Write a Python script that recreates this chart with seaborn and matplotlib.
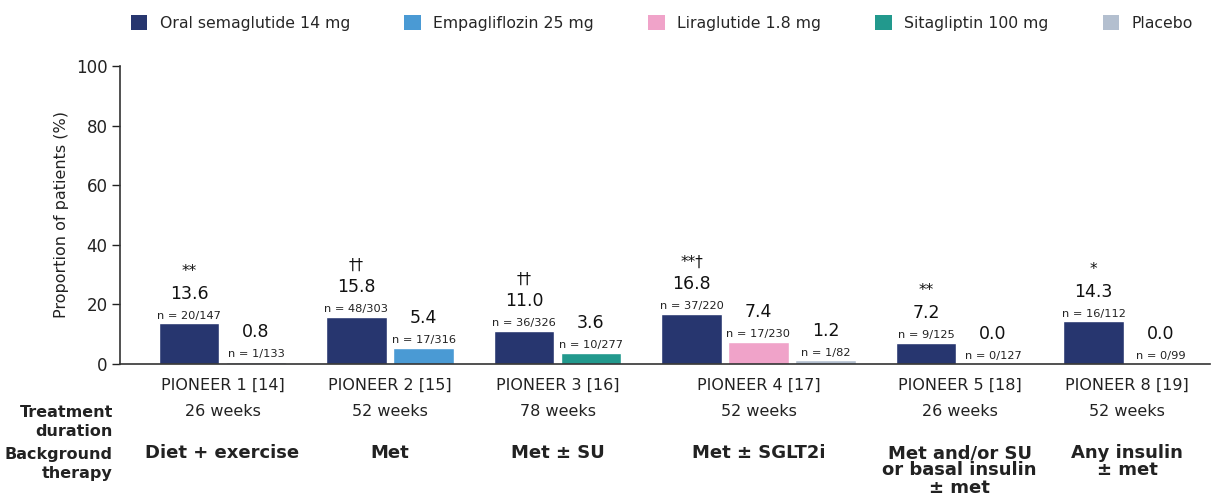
import numpy as np
import pandas as pd
import matplotlib
matplotlib.use("Agg")
import matplotlib.pyplot as plt
import seaborn as sns
from matplotlib.patches import Patch

# ---------------- data ----------------
trials = ["PIONEER 1 [14]", "PIONEER 2 [15]", "PIONEER 3 [16]",
          "PIONEER 4 [17]", "PIONEER 5 [18]", "PIONEER 8 [19]"]
durations = ["26 weeks", "52 weeks", "78 weeks", "52 weeks", "26 weeks", "52 weeks"]
backgrounds = ["Diet + exercise", "Met", "Met ± SU", "Met ± SGLT2i",
               "Met and/or SU\nor basal insulin\n± met", "Any insulin\n± met"]

treatments = ["Oral semaglutide 14 mg", "Empagliflozin 25 mg", "Liraglutide 1.8 mg",
              "Sitagliptin 100 mg", "Placebo"]
colors = ["#27366f", "#4a9ad4", "#f0a3c9", "#22998d", "#b3bfcf"]

bar_trial = [0, 0, 1, 1, 2, 2, 3, 3, 3, 4, 4, 5, 5]
bar_treat = ["Oral semaglutide 14 mg", "Placebo",
             "Oral semaglutide 14 mg", "Empagliflozin 25 mg",
             "Oral semaglutide 14 mg", "Sitagliptin 100 mg",
             "Oral semaglutide 14 mg", "Liraglutide 1.8 mg", "Placebo",
             "Oral semaglutide 14 mg", "Placebo",
             "Oral semaglutide 14 mg", "Placebo"]
bar_values = [13.6, 0.8, 15.8, 5.4, 11.0, 3.6, 16.8, 7.4, 1.2, 7.2, 0.0, 14.3, 0.0]
bar_n = ["n = 20/147", "n = 1/133", "n = 48/303", "n = 17/316", "n = 36/326",
         "n = 10/277", "n = 37/220", "n = 17/230", "n = 1/82", "n = 9/125",
         "n = 0/127", "n = 16/112", "n = 0/99"]
bar_sig = ["**", "", "††", "", "††", "", "**†", "", "", "**", "", "*", ""]

# ---------------- layout of bar slots ----------------
pos = []
cur = 0.0
prev = None
for t in bar_trial:
    if prev is not None:
        cur += 1.0 if t == prev else 1.5
    pos.append(cur)
    prev = t

df = pd.DataFrame({"pos": pos, "value": bar_values, "treatment": bar_treat,
                   "trial": bar_trial})

sns.set_theme(style="white")
plt.rcParams["font.family"] = ["DejaVu Sans"]

fig = plt.figure(figsize=(12.12, 4.96), dpi=100)
ax = fig.add_axes([120 / 1212, 1 - 364 / 496, (1210 - 120) / 1212, (364 - 66) / 496])

sns.barplot(data=df, x="pos", y="value", hue="treatment", hue_order=treatments,
            palette=dict(zip(treatments, colors)), native_scale=True, dodge=False,
            width=0.9, saturation=1, legend=False, ax=ax)

px_per_slot = 67.0
x0 = -(189 - 120) / px_per_slot
x1 = (1210 - 189) / px_per_slot
ax.set_xlim(x0, x1)
ax.set_ylim(0, 100)

for p, v, n, s in zip(pos, bar_values, bar_n, bar_sig):
    ax.annotate(n, (p, v), xytext=(0, 2), textcoords="offset points",
                ha="center", va="bottom", fontsize=8.2, color="#222222")
    ax.annotate(f"{v:.1f}", (p, v), xytext=(0, 15), textcoords="offset points",
                ha="center", va="bottom", fontsize=12.5, color="#111111")
    if s:
        ax.annotate(s, (p, v), xytext=(0, 32), textcoords="offset points",
                    ha="center", va="bottom", fontsize=11, color="#111111")

# group centers
centers = []
for g in range(len(trials)):
    ps = [p for p, t in zip(pos, bar_trial) if t == g]
    centers.append((min(ps) + max(ps)) / 2)

ax.set_xticks(centers)
ax.set_xticklabels(trials, fontsize=11.5, color="#222222")
ax.tick_params(axis="x", length=0, pad=10)
ax.set_xlabel("")

ax.set_yticks([0, 20, 40, 60, 80, 100])
ax.tick_params(axis="y", length=6, width=1, labelsize=12, colors="#222222",
               direction="out", pad=3, left=True)
ax.set_ylabel("Proportion of patients (%)", fontsize=11.5, color="#222222", labelpad=5)

sns.despine(ax=ax, top=True, right=True)
for sp in ["left", "bottom"]:
    ax.spines[sp].set_color("#333333")
    ax.spines[sp].set_linewidth(1.2)

trans = ax.get_xaxis_transform()
def fy(px):
    return 1 - px / 496

for c, d, b in zip(centers, durations, backgrounds):
    ax.text(c, -(412 - 364) / 298, d, transform=trans, ha="center", va="center",
            fontsize=11.5, color="#222222")
    ax.text(c, -(444 - 364) / 298, b, transform=trans, ha="center", va="top",
            fontsize=13, fontweight="bold", color="#222222", linespacing=0.95)

fig.text(113 / 1212, fy(422), "Treatment\nduration", ha="right", va="center",
         fontsize=11.5, fontweight="bold", color="#222222", linespacing=1.3)
fig.text(113 / 1212, fy(464), "Background\ntherapy", ha="right", va="center",
         fontsize=11.5, fontweight="bold", color="#222222", linespacing=1.3)

handles = [Patch(facecolor=c, edgecolor="none", label=t) for t, c in zip(treatments, colors)]
fig.legend(handles=handles, loc="center", bbox_to_anchor=(662 / 1212, fy(23)),
           ncol=5, frameon=False, fontsize=11.3, handlelength=1.05, handleheight=1.05,
           handletextpad=0.8, columnspacing=3.45)

fig.savefig("out.png", dpi=100, facecolor="white")
